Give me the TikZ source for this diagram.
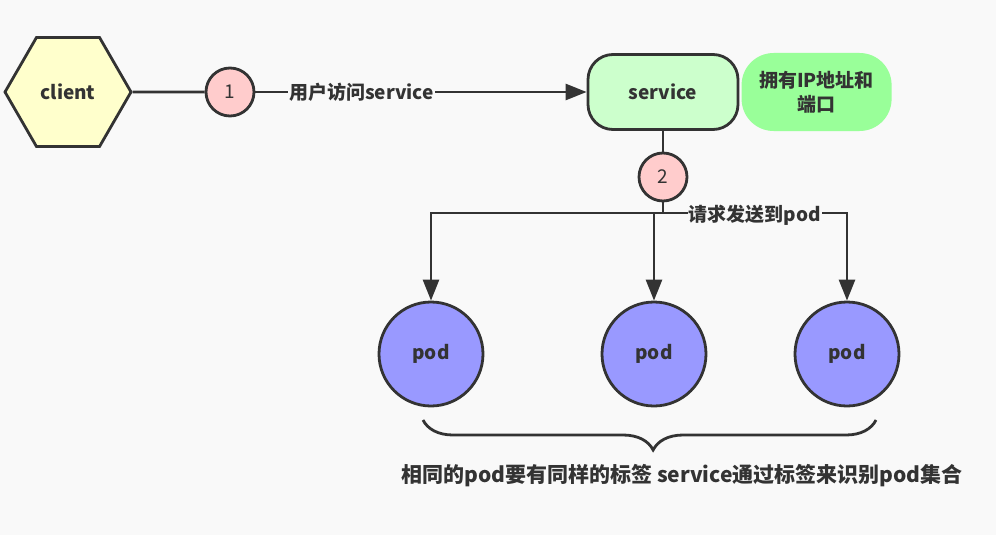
\documentclass[tikz,border=0pt]{standalone}
\usepackage{fontspec}
\setmainfont{Noto Sans CJK SC}
\usetikzlibrary{positioning, shapes.geometric, decorations.pathreplacing, arrows.meta, calc}

\definecolor{inkgray}{HTML}{333333}
\definecolor{paper}{HTML}{F9F9F9}
\definecolor{clientfill}{HTML}{FFFFCC}
\definecolor{stepfill}{HTML}{FFCCCC}
\definecolor{servicefill}{HTML}{CCFFCC}
\definecolor{notefill}{HTML}{99FF99}
\definecolor{podfill}{HTML}{9999FF}

\begin{document}
\begin{tikzpicture}[x=1pt, y=-1pt,
    every node/.style={text=inkgray, font=\bfseries\fontsize{19}{24}\selectfont},
    line/.style={draw=inkgray, line width=2.8pt},
    arrow/.style={line, -{Triangle[length=21pt, width=16pt]}},
    stepcircle/.style={circle, line, fill=stepfill, minimum size=48pt, inner sep=0pt,
        font=\fontsize{19}{22}\selectfont},
    pod/.style={circle, line, fill=podfill, minimum size=104pt, inner sep=0pt},
    linelabel/.style={fill=paper, inner sep=1pt}]

    % Background
    \fill[paper] (0, 0) rectangle (996, 535);
    \useasboundingbox (0, 0) rectangle (996, 535);

    % Client and request to service
    \node[regular polygon, regular polygon sides=6, line, fill=clientfill,
        minimum size=126pt, inner sep=0pt] (client) at (68, 92) {client};
    \node[stepcircle] (step one) at (230, 92) {1};
    \node[line, fill=servicefill, rounded corners=25pt, minimum width=150pt,
        minimum height=75pt] (service) at (663, 92) {service};
    \node[fill=notefill, rounded corners=32pt, minimum width=150pt, minimum height=78pt,
        align=center, right=2pt of service] (note) {拥有IP地址和\\端口};

    \draw[line] (client) -- (step one);
    \draw[arrow] (step one) -- node[linelabel, pos=0.32] (request label) {用户访问service} (service);

    % Service forwards to pods
    \node[stepcircle] (step two) at (663, 177) {2};
    \draw[line] (service) -- (step two);
    \coordinate (split) at (663, 213);

    \foreach \x/\name in {431/pod one, 654/pod two, 847/pod three}{
        \node[pod] (\name) at (\x, 354) {pod};
    }

    \draw[line] (step two) -- (split);
    \draw[arrow] (split) -| (pod one.north);
    \draw[arrow] (split) -| (pod two.north);
    \draw[arrow] (split) -| node[linelabel, pos=0.25, yshift=-2pt] (forward label) {请求发送到pod} (pod three.north);

    % Brace under the pods
    \coordinate (brace left) at (423, 420);
    \coordinate (brace right) at (876, 420);
    \draw[inkgray, line width=2.8pt, decorate,
        decoration={brace, mirror, amplitude=30pt, aspect=0.508}] (brace left) -- (brace right);
    \node[font=\bfseries\fontsize{21}{24}\selectfont] (summary) at (682, 476)
        {相同的pod要有同样的标签 service通过标签来识别pod集合};

\end{tikzpicture}
\end{document}
